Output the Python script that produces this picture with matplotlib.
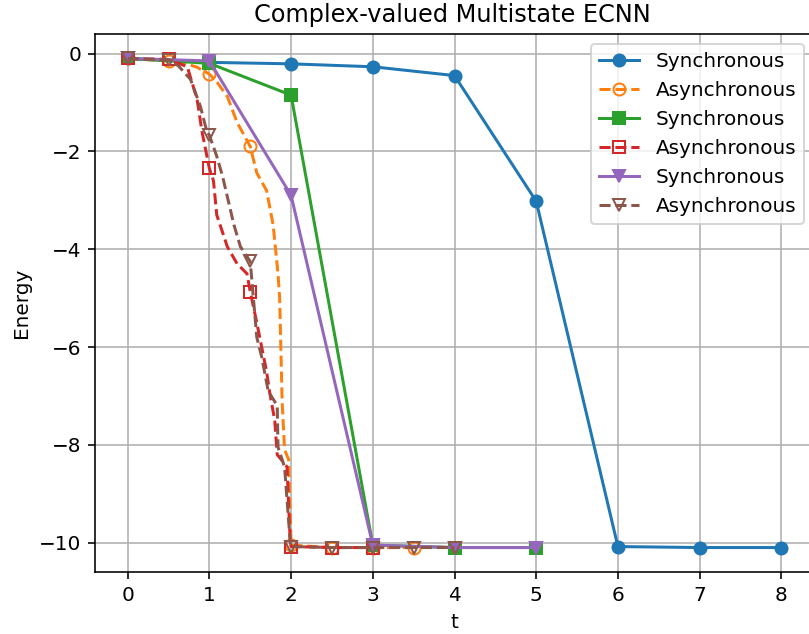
import matplotlib
matplotlib.use("Agg")
import matplotlib.pyplot as plt
import numpy as np

# Synchronous runs (one point per step)
t_sync1 = [0, 1, 2, 3, 4, 5, 6, 7, 8]
e_sync1 = [-0.1, -0.18, -0.21, -0.27, -0.45, -3.02, -10.08, -10.1, -10.1]

t_sync2 = [0, 1, 2, 3, 4, 5]
e_sync2 = [-0.1, -0.2, -0.85, -10.05, -10.1, -10.1]

t_sync3 = [0, 1, 2, 3, 4, 5]
e_sync3 = [-0.1, -0.15, -2.9, -10.05, -10.1, -10.1]

# Asynchronous runs
t_async1 = [0, 0.5, 0.7, 0.85, 1.0, 1.1, 1.22, 1.34, 1.5, 1.58, 1.7, 1.78,
            1.84, 1.86, 1.89, 1.92, 1.97, 2.0, 2.5, 3.0, 3.5]
e_async1 = [-0.1, -0.15, -0.2, -0.28, -0.42, -0.6, -0.88, -1.41, -1.9, -2.44, -2.8, -3.5,
            -4.5, -5.0, -7.1, -8.1, -8.3, -10.05, -10.1, -10.1, -10.1]

t_async2 = [0, 0.5, 0.73, 0.85, 0.91, 0.97, 1.0, 1.05, 1.09, 1.22, 1.34, 1.46, 1.5,
            1.58, 1.64, 1.7, 1.74, 1.8, 1.83, 1.95, 1.99, 2.0, 2.5, 3.0]
e_async2 = [-0.1, -0.12, -0.27, -0.94, -1.6, -2.1, -2.35, -2.6, -3.3, -3.95, -4.3, -4.5, -4.87,
            -5.5, -6.0, -6.5, -6.95, -7.5, -8.2, -8.45, -10.0, -10.08, -10.1, -10.1]

t_async3 = [0, 0.5, 0.62, 0.77, 0.89, 0.97, 1.0, 1.09, 1.16, 1.22, 1.3, 1.38, 1.46, 1.5,
            1.58, 1.64, 1.72, 1.83, 1.84, 1.92, 1.99, 2.0, 2.5, 3.0, 3.5, 4.0]
e_async3 = [-0.1, -0.13, -0.25, -0.53, -1.08, -1.6, -1.67, -2.1, -2.5, -2.93, -3.5, -3.95, -4.15, -4.25,
            -5.8, -6.2, -6.9, -7.2, -8.05, -8.45, -10.0, -10.08, -10.1, -10.1, -10.1, -10.1]


def half_steps(t):
    # markers only on multiples of 0.5
    return [i for i, v in enumerate(t) if abs(v * 2 - round(v * 2)) < 1e-9]


fig = plt.figure(figsize=(809 / 144, 634 / 144), dpi=144)
# axes runs slightly past the right edge, as in the cropped original
ax = fig.add_axes([95 / 809, 62 / 634, 719 / 809, 538 / 634])

ax.plot(t_sync1, e_sync1, "-o", color="C0", label="Synchronous")
ax.plot(t_async1, e_async1, "--o", color="C1", mfc="none", markevery=half_steps(t_async1),
        label="Asynchronous")
ax.plot(t_sync2, e_sync2, "-s", color="C2", label="Synchronous")
ax.plot(t_async2, e_async2, "--s", color="C3", mfc="none", markevery=half_steps(t_async2),
        label="Asynchronous")
ax.plot(t_sync3, e_sync3, "-v", color="C4", label="Synchronous")
ax.plot(t_async3, e_async3, "--v", color="C5", mfc="none", markevery=half_steps(t_async3),
        label="Asynchronous")

ax.set_xlim(-0.4, 8.4)
ax.set_ylim(-10.6, 0.4)
ax.set_xticks(range(0, 9))
ax.set_yticks([0, -2, -4, -6, -8, -10])
ax.set_xlabel("t")
ax.set_ylabel("Energy")
ax.set_title("Complex-valued Multistate ECNN", x=(452 - 95) / 719)
ax.grid(True)
ax.legend(loc="upper right")

fig.savefig("out.png", dpi=144)
